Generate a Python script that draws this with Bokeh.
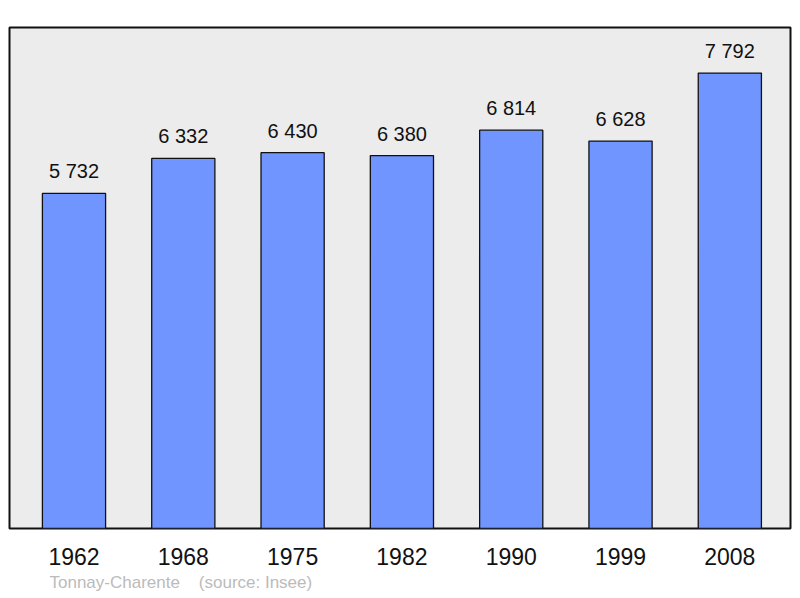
from bokeh.plotting import figure
from bokeh.models import FixedTicker, Title, ColumnDataSource
from bokeh.core.properties import value
from bokeh.embed import file_html
from bokeh.resources import INLINE

years = ["1962", "1968", "1975", "1982", "1990", "1999", "2008"]
population = [5732, 6332, 6430, 6380, 6814, 6628, 7792]
value_labels = ["5 732", "6 332", "6 430", "6 380", "6 814", "6 628", "7 792"]
source_text = "Tonnay-Charente\u00a0\u00a0\u00a0\u00a0(source: Insee)"

xs = list(range(len(years)))
src = ColumnDataSource(dict(x=xs, top=population, lab=value_labels))

p = figure(width=798, height=596, output_backend="svg", toolbar_location=None,
           x_range=(-0.59, 6.555), y_range=(0, 8571),
           min_border_left=9, min_border_right=8, min_border_top=27, min_border_bottom=68)
p.background_fill_color = "#ececec"
p.border_fill_color = "white"
p.outline_line_color = "#111111"
p.outline_line_width = 2
p.grid.visible = False
p.yaxis.visible = False

p.vbar(x="x", top="top", bottom=0, width=0.578, source=src,
       fill_color="#7095ff", line_color="#111111", line_width=1.3)
p.text(x="x", y="top", text="lab", source=src, y_offset=-22,
       text_align="center", text_baseline="alphabetic",
       text_font=value("Liberation Sans"), text_font_size="20px", text_color="#111111")

ax = p.xaxis[0]
ax.ticker = FixedTicker(ticks=xs)
ax.major_label_overrides = {i: y for i, y in enumerate(years)}
ax.axis_line_color = None
ax.major_tick_line_color = None
ax.minor_tick_line_color = None
ax.major_label_standoff = 13
ax.major_label_text_font = "Liberation Sans"
ax.major_label_text_font_size = "23px"
ax.major_label_text_color = "#111111"

src_title = Title(text=source_text, align="left", offset=40, standoff=7,
                  text_font="Liberation Sans", text_font_size="17px",
                  text_font_style="normal", text_color="#bbbbbb")
p.add_layout(src_title, "below")

open("out.html", "w").write(file_html(p, INLINE))
